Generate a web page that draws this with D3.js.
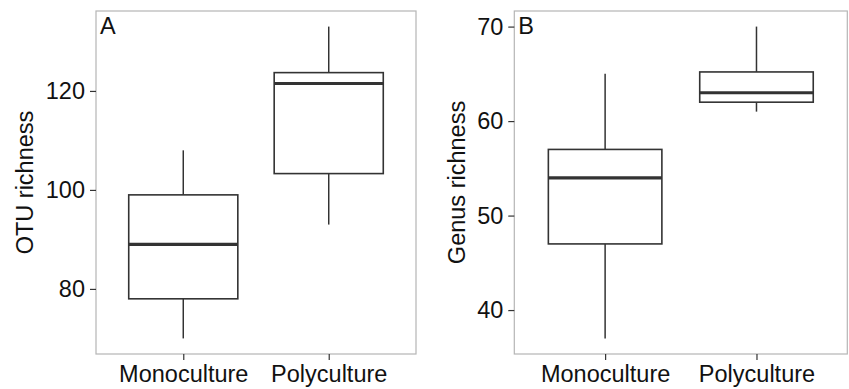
<!DOCTYPE html>
<html>
<head>
<meta charset="utf-8">
<script src="https://cdn.jsdelivr.net/npm/d3@7"></script>
<style>
  html, body { margin: 0; padding: 0; background: #fff; }
  svg { display: block; }
  text { font-family: "Liberation Sans", Arial, Helvetica, sans-serif; fill: #111; }
</style>
</head>
<body>
<svg id="chart" width="849" height="389"></svg>
<script>
// ---- data ----
const categories = ["Monoculture", "Polyculture"];
// five-number summaries: [whisker low, Q1, median, Q3, whisker high]
const otuMono = [70, 78, 89, 99, 108];
const otuPoly = [93, 103.3, 121.5, 123.7, 133];
const genusMono = [37, 47, 54, 57, 65];
const genusPoly = [61, 62, 63, 65.2, 70];
const otuTicks = [80, 100, 120];
const genusTicks = [40, 50, 60, 70];
const panelLabels = ["A", "B"];
const yTitles = ["OTU richness", "Genus richness"];

const svg = d3.select("#chart");

const panels = [
  { label: panelLabels[0], title: yTitles[0], stats: [otuMono, otuPoly], ticks: otuTicks,
    x0: 96, x1: 416, y0: 11, y1: 354, titleX: 33 },
  { label: panelLabels[1], title: yTitles[1], stats: [genusMono, genusPoly], ticks: genusTicks,
    x0: 514.3, x1: 847.3, y0: 11, y1: 354, titleX: 464.5 }
];

const boxColor = "#333333";
const fontSize = 23.5;

panels.forEach(p => {
  const all = p.stats.flat();
  const lo = d3.min(all), hi = d3.max(all);
  const pad = (hi - lo) * 0.05;
  const y = d3.scaleLinear().domain([lo - pad, hi + pad]).range([p.y1, p.y0]);
  // emulate ggplot discrete: positions at 1,2 with 0.6 expansion, box width 0.75
  const unit = (p.x1 - p.x0) / 2.2;
  const cx = d3.scalePoint().domain(categories).range([p.x0 + 0.6 * unit, p.x1 - 0.6 * unit]);
  const bw = 0.75 * unit;

  const g = svg.append("g");

  // panel background + border
  g.append("rect")
    .attr("x", p.x0).attr("y", p.y0)
    .attr("width", p.x1 - p.x0).attr("height", p.y1 - p.y0)
    .attr("fill", "#fff").attr("stroke", "#b5b5b5").attr("stroke-width", 1.2);

  // y axis
  const yAxis = d3.axisLeft(y).tickValues(p.ticks).tickSize(6).tickPadding(5).tickFormat(d3.format("d"));
  const ya = g.append("g").attr("transform", `translate(${p.x0},0)`).call(yAxis);
  ya.select(".domain").remove();
  ya.selectAll(".tick line").attr("stroke", boxColor).attr("stroke-width", 1.2);
  ya.selectAll(".tick text").attr("font-size", fontSize).attr("fill", "#111")
    .attr("font-family", "Liberation Sans, Arial, sans-serif");

  // x axis
  const xAxis = d3.axisBottom(cx).tickSize(6).tickPadding(5);
  const xa = g.append("g").attr("transform", `translate(0,${p.y1})`).call(xAxis);
  xa.select(".domain").remove();
  xa.selectAll(".tick line").attr("stroke", boxColor).attr("stroke-width", 1.2);
  xa.selectAll(".tick text").attr("font-size", fontSize).attr("fill", "#111")
    .attr("font-family", "Liberation Sans, Arial, sans-serif");

  // boxes
  categories.forEach((c, i) => {
    const s = p.stats[i];
    const xc = cx(c);
    // whiskers
    g.append("line").attr("x1", xc).attr("x2", xc).attr("y1", y(s[0])).attr("y2", y(s[1]))
      .attr("stroke", boxColor).attr("stroke-width", 1.5);
    g.append("line").attr("x1", xc).attr("x2", xc).attr("y1", y(s[3])).attr("y2", y(s[4]))
      .attr("stroke", boxColor).attr("stroke-width", 1.5);
    // box
    g.append("rect").attr("x", xc - bw / 2).attr("width", bw)
      .attr("y", y(s[3])).attr("height", y(s[1]) - y(s[3]))
      .attr("fill", "#fff").attr("stroke", boxColor).attr("stroke-width", 1.6);
    // median
    g.append("line").attr("x1", xc - bw / 2).attr("x2", xc + bw / 2)
      .attr("y1", y(s[2])).attr("y2", y(s[2]))
      .attr("stroke", boxColor).attr("stroke-width", 3.2);
  });

  // panel label
  g.append("text").attr("x", p.x0 + 4).attr("y", 34)
    .attr("font-size", 23.5).text(p.label);

  // y title
  g.append("text")
    .attr("transform", `translate(${p.titleX},${(p.y0 + p.y1) / 2}) rotate(-90)`)
    .attr("text-anchor", "middle")
    .attr("font-size", fontSize).text(p.title);
});
</script>
</body>
</html>
